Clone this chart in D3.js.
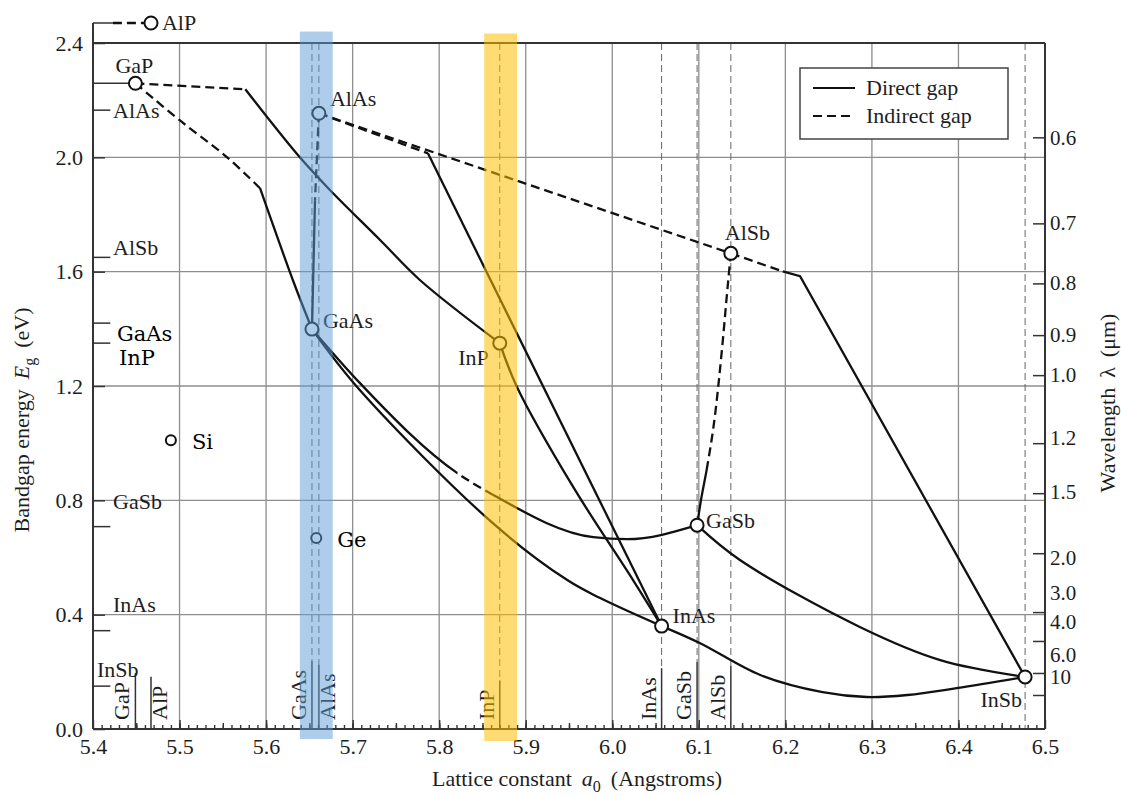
<!DOCTYPE html>
<html>
<head>
<meta charset="utf-8">
<script src="https://cdn.jsdelivr.net/npm/d3@7"></script>
<style>
  body { margin: 0; background: #fff; }
  svg { display: block; }
  text { font-family: "Liberation Serif", "Times New Roman", serif; font-size: 22px; fill: #1e1e1e; }
  .cam { font-family: "DejaVu Serif", serif; font-size: 21px; fill: #000; }
</style>
</head>
<body>
<svg id="chart" width="1121" height="796"></svg>
<script>
// ---- data ----
const materials  = ['AlP', 'GaP', 'AlAs', 'GaAs', 'InP', 'AlSb', 'GaSb', 'InAs', 'InSb'];
const latticeA   = [5.467, 5.449, 5.661, 5.653, 5.870, 6.137, 6.098, 6.057, 6.477];
const bandgapEg  = [2.47, 2.259, 2.154, 1.399, 1.350, 1.664, 0.713, 0.360, 0.182];
// small marks on the left axis (Eg) and where they run to (a)
const axisMarkEg = [2.47, 2.259, 2.165, 1.42, 1.35, 1.65, 0.708, 0.344, 0.15];
const axisMarkTo = [5.423, 5.449, 5.42, 5.42, 5.42, 5.42, 5.42, 5.42, 5.42];

const elements   = ['Si', 'Ge'];
const elementA   = [5.490, 5.658];
const elementEg  = [1.01, 0.668];

// dashed guides down from the top, solid marks + labels on the bottom axis
const guideMats  = ['GaAs', 'AlAs', 'InP', 'InAs', 'GaSb', 'AlSb', 'InSb'];
const bottomMats = ['GaP', 'AlP', 'GaAs', 'AlAs', 'InP', 'InAs', 'GaSb', 'AlSb'];
const bottomSide = ['L', 'R', 'L', 'R', 'L', 'L', 'L', 'L'];

// ternary lines: [from, to, gap, shape, [[a, Eg], ...]]
const segments = [
  ['AlP', 'AlP', 'indirect', 'linear', [[5.423, 2.47], [5.461, 2.47]]],
  ['GaP', 'InP', 'indirect', 'linear', [[5.449, 2.259], [5.576, 2.238]]],
  ['GaP', 'InP', 'direct', 'smooth', [[5.576, 2.238], [5.639, 2.0], [5.674, 1.885], [5.732, 1.71], [5.778, 1.57], [5.870, 1.35]]],
  ['GaP', 'GaAs', 'indirect', 'smooth', [[5.449, 2.259], [5.5005, 2.129], [5.555, 2.0], [5.593, 1.892]]],
  ['GaP', 'GaAs', 'direct', 'smooth', [[5.593, 1.892], [5.631, 1.57], [5.653, 1.399]]],
  ['AlAs', 'GaAs', 'indirect', 'linear', [[5.661, 2.154], [5.6565, 1.85]]],
  ['AlAs', 'GaAs', 'direct', 'linear', [[5.6565, 1.85], [5.653, 1.399]]],
  ['AlAs', 'AlSb', 'indirect', 'linear', [[5.661, 2.154], [6.137, 1.664]]],
  ['AlAs', 'InAs', 'indirect', 'linear', [[5.661, 2.154], [5.787, 2.014]]],
  ['AlAs', 'InAs', 'direct', 'linear', [[5.787, 2.014], [6.057, 0.36]]],
  ['InP', 'InAs', 'direct', 'smooth', [[5.870, 1.35], [5.890, 1.196], [5.955, 0.846], [6.024, 0.521], [6.057, 0.36]]],
  ['GaAs', 'InAs', 'direct', 'smooth', [[5.653, 1.399], [5.7085, 1.185], [5.862, 0.72], [5.948, 0.521], [5.986, 0.458], [6.057, 0.36]]],
  ['InAs', 'InSb', 'direct', 'smooth', [[6.057, 0.36], [6.101, 0.301], [6.171, 0.189], [6.243, 0.129], [6.294, 0.112], [6.341, 0.119], [6.398, 0.143], [6.477, 0.182]]],
  ['GaSb', 'InSb', 'direct', 'smooth', [[6.098, 0.713], [6.1475, 0.591], [6.286, 0.357], [6.379, 0.241], [6.477, 0.182]]],
  ['AlSb', 'InSb', 'indirect', 'linear', [[6.137, 1.664], [6.197, 1.601]]],
  ['AlSb', 'InSb', 'direct', 'linear', [[6.197, 1.601], [6.217, 1.584], [6.477, 0.182]]],
];
// smooth lines that turn indirect over a stretch: [from, to, points, axis, lo, hi]
const mixedCurves = [
  ['GaAs', 'GaSb', [[5.653, 1.399], [5.7085, 1.21], [5.821, 0.895], [5.863, 0.818], [5.978, 0.671], [6.017, 0.664], [6.098, 0.713]], 'a', 5.821, 5.862],
  ['GaSb', 'AlSb', [[6.098, 0.713], [6.1025, 0.801], [6.109, 0.906], [6.119, 1.105], [6.127, 1.336], [6.134, 1.57], [6.137, 1.664]], 'eg', 0.906, 2.4],
];

// axes
const xTicks = [5.4, 5.5, 5.6, 5.7, 5.8, 5.9, 6.0, 6.1, 6.2, 6.3, 6.4, 6.5];
const yTicks = [0, 0.4, 0.8, 1.2, 1.6, 2.0, 2.4];
const lambdaLabels = ['0.6', '0.7', '0.8', '0.9', '1.0', '1.2', '1.5', '2.0', '3.0', '4.0', '6.0', '10'];
const lambdaTickEg  = [2.07, 1.769, 1.559, 1.378, 1.238, 1.0, 0.825, 0.615, 0.409, 0.308, 0.196, 0.119];
const lambdaLabelEg = [2.07, 1.77, 1.56, 1.378, 1.238, 1.02, 0.83, 0.60, 0.476, 0.374, 0.259, 0.181];

// highlight bands [a0, a1, Eg0, Eg1]
const bandNames = ['blue', 'yellow'];
const bandRange = [[5.639, 5.677, -0.035, 2.44], [5.852, 5.890, -0.042, 2.433]];
const bandColor = ['#5b9bd5', '#ffc000'];

// ---- drawing ----
const W = 1121, H = 796;
const M = { l: 93, r: 1045, t: 43, b: 729 };
const svg = d3.select('#chart');
const x = d3.scaleLinear().domain([5.4, 6.5]).range([M.l, M.r]);
const y = d3.scaleLinear().domain([0, 2.4]).range([M.b, M.t]);
const mat = name => { const i = materials.indexOf(name); return { a: latticeA[i], eg: bandgapEg[i] }; };
const tickFont = sel => sel.style('font-size', '22px').style('font-family', '"Liberation Serif", serif').attr('fill', '#1e1e1e');

svg.append('rect').attr('width', W).attr('height', H).attr('fill', '#fff');
const defs = svg.append('defs');

// grid
const grid = svg.append('g').attr('stroke', '#8e8e8e').attr('stroke-width', 1.3);
grid.selectAll('line.v').data(xTicks.slice(1, -1)).join('line').attr('class', 'v')
  .attr('x1', d => x(d)).attr('x2', d => x(d)).attr('y1', M.t).attr('y2', M.b);
grid.selectAll('line.h').data(yTicks.slice(1, -1)).join('line').attr('class', 'h')
  .attr('x1', M.l).attr('x2', M.r).attr('y1', d => y(d)).attr('y2', d => y(d));

// legend (white box sits over the grid)
const lg = svg.append('g').attr('transform', `translate(${M.r - 245},68)`);
lg.append('rect').attr('width', 208).attr('height', 71).attr('fill', '#fff')
  .attr('stroke', '#444').attr('stroke-width', 1.5);
[['Direct gap', null, 20], ['Indirect gap', '9,5', 48]].forEach(([t, dash, yy]) => {
  lg.append('line').attr('x1', 13).attr('x2', 55).attr('y1', yy).attr('y2', yy)
    .attr('stroke', '#111').attr('stroke-width', 2.2).attr('stroke-dasharray', dash);
  lg.append('text').attr('x', 66).attr('y', yy + 7).text(t);
});

// dashed guides + bottom marks
const guides = svg.append('g');
const bottomTop = {};
bottomMats.forEach((m, i) => {
  const lx = x(mat(m).a);
  const bx = bottomSide[i] === 'L' ? lx - 6 : lx + 16;
  const t = guides.append('text').attr('transform', `translate(${bx},720) rotate(-90)`).text(m);
  const len = t.node().getComputedTextLength();
  bottomTop[m] = 720 - len - 9;
  guides.append('line').attr('x1', lx).attr('x2', lx).attr('y1', bottomTop[m]).attr('y2', M.b)
    .attr('stroke', '#333').attr('stroke-width', 1.5);
});
guides.selectAll('line.guide').data(guideMats).join('line').attr('class', 'guide')
  .attr('x1', d => x(mat(d).a)).attr('x2', d => x(mat(d).a))
  .attr('y1', M.t).attr('y2', d => bottomTop[d] !== undefined ? bottomTop[d] : M.b)
  .attr('stroke', '#666').attr('stroke-width', 1).attr('stroke-dasharray', '7,4');

// axes
const xAxis = svg.append('g').attr('transform', `translate(0,${M.b})`);
xAxis.call(d3.axisBottom(x).tickValues(d3.range(541, 650).map(v => v / 100)).tickSize(-4).tickFormat(''));
xAxis.call(g => g.append('g').call(d3.axisBottom(x).tickValues(d3.range(109, 130).map(v => v / 20)).tickSize(-6).tickFormat('')));
xAxis.call(g => g.append('g').call(d3.axisBottom(x).tickValues(xTicks).tickSize(-9).tickPadding(9).tickFormat(d3.format('.1f'))));
xAxis.selectAll('.domain').remove();
xAxis.selectAll('line').attr('stroke', '#333').attr('stroke-width', 1.4);
xAxis.selectAll('text').call(tickFont);

const yAxis = svg.append('g').attr('transform', `translate(${M.l},0)`)
  .call(d3.axisLeft(y).tickValues(yTicks).tickSize(-12).tickPadding(10).tickFormat(d3.format('.1f')));
yAxis.select('.domain').remove();
yAxis.selectAll('line').attr('stroke', '#333').attr('stroke-width', 1.5);
yAxis.selectAll('text').call(tickFont);

const rAxis = svg.append('g').attr('transform', `translate(${M.r},0)`);
rAxis.call(d3.axisRight(y).tickValues(lambdaTickEg).tickSize(-12).tickFormat(''));
rAxis.call(g => g.append('g').call(d3.axisRight(y).tickValues(lambdaLabelEg).tickSize(0).tickPadding(5)
  .tickFormat((d, i) => lambdaLabels[i])));
rAxis.selectAll('.domain').remove();
rAxis.selectAll('line').attr('stroke', '#333').attr('stroke-width', 1.5);
rAxis.selectAll('text').call(tickFont).style('font-size', '21px');

// frame
const frame = svg.append('g').attr('stroke', '#333').attr('stroke-width', 2).attr('fill', 'none');
frame.append('line').attr('x1', M.l).attr('x2', M.r).attr('y1', y(2.4)).attr('y2', y(2.4));
frame.append('line').attr('x1', M.l).attr('x2', M.r).attr('y1', M.b).attr('y2', M.b);
frame.append('line').attr('x1', M.l).attr('x2', M.l).attr('y1', M.b).attr('y2', y(d3.max(axisMarkEg)));
frame.append('line').attr('x1', M.r).attr('x2', M.r).attr('y1', M.t).attr('y2', M.b);

// left axis material marks
svg.append('g').selectAll('line').data(materials).join('line')
  .attr('x1', M.l).attr('x2', (d, i) => x(axisMarkTo[i]))
  .attr('y1', (d, i) => y(axisMarkEg[i])).attr('y2', (d, i) => y(axisMarkEg[i]))
  .attr('stroke', '#333').attr('stroke-width', 1.5);

// curves
const lineSmooth = d3.line().x(d => x(d[0])).y(d => y(d[1])).curve(d3.curveCatmullRom.alpha(0.5));
const lineMixed = d3.line().x(d => x(d[0])).y(d => y(d[1])).curve(d3.curveMonotoneX);
const lineStraight = d3.line().x(d => x(d[0])).y(d => y(d[1]));
const curves = svg.append('g').attr('fill', 'none').attr('stroke', '#111').attr('stroke-width', 2.3);
curves.selectAll('path.seg').data(segments).join('path').attr('class', 'seg')
  .attr('d', s => (s[3] === 'smooth' ? lineSmooth : lineStraight)(s[4]))
  .attr('stroke-dasharray', s => s[2] === 'indirect' ? '9,5' : null);

// one smooth path each, clipped into its direct and indirect stretches
mixedCurves.forEach((c, k) => {
  const [, , pts, axis, lo, hi] = c;
  const inside = axis === 'a'
    ? [[x(lo), 0, x(hi) - x(lo), H]]
    : [[0, y(hi), W, y(lo) - y(hi)]];
  const outside = axis === 'a'
    ? [[0, 0, x(lo), H], [x(hi), 0, W - x(hi), H]]
    : [[0, 0, W, y(hi)], [0, y(lo), W, H - y(lo)]];
  [['in', inside], ['out', outside]].forEach(([nm, rects]) => {
    const cp = defs.append('clipPath').attr('id', `mix-${k}-${nm}`);
    rects.forEach(r => cp.append('rect').attr('x', r[0]).attr('y', r[1]).attr('width', r[2]).attr('height', r[3]));
  });
  curves.append('path').attr('d', lineMixed(pts)).attr('clip-path', `url(#mix-${k}-out)`);
  curves.append('path').attr('d', lineMixed(pts)).attr('clip-path', `url(#mix-${k}-in)`)
    .attr('stroke-dasharray', '9,5');
});

// points
svg.append('g').selectAll('circle').data(materials).join('circle')
  .attr('cx', (d, i) => x(latticeA[i])).attr('cy', (d, i) => y(bandgapEg[i])).attr('r', 6.5)
  .attr('fill', '#fff').attr('stroke', '#111').attr('stroke-width', 2);
svg.append('g').selectAll('circle').data(elements).join('circle')
  .attr('cx', (d, i) => x(elementA[i])).attr('cy', (d, i) => y(elementEg[i])).attr('r', 5)
  .attr('fill', '#fff').attr('stroke', '#111').attr('stroke-width', 2);

// labels next to points: [name, dx, dy, anchor]
const pointLabelPos = [['AlP', 11, 7, 'start'], ['GaP', -20, -10, 'start'], ['AlAs', 11, -7, 'start'],
  ['GaAs', 11, -1, 'start'], ['InP', -11, 22, 'end'], ['AlSb', -6, -13, 'start'],
  ['GaSb', 9, 3, 'start'], ['InAs', 11, -3, 'start'], ['InSb', -3, 30, 'end']];
svg.append('g').selectAll('text').data(pointLabelPos).join('text')
  .attr('x', d => x(mat(d[0]).a) + d[1]).attr('y', d => y(mat(d[0]).eg) + d[2])
  .attr('text-anchor', d => d[3]).text(d => d[0]);
svg.append('g').selectAll('text').data(elements).join('text').attr('class', 'cam')
  .attr('x', (d, i) => x(elementA[i]) + 21).attr('y', (d, i) => y(elementEg[i]) + 9).text(d => d);

// labels at the left axis marks: [name, dx, dy, serif class]
const axisLabelPos = [['AlAs', 20, 8, ''], ['AlSb', 20, -2, ''], ['GaAs', 24, 18, 'cam'], ['InP', 26, 22, 'cam'],
  ['GaSb', 20, -18, ''], ['InAs', 20, -19, ''], ['InSb', 4, -9, '']];
svg.append('g').selectAll('text').data(axisLabelPos).join('text')
  .attr('class', d => d[3])
  .attr('x', d => M.l + d[1]).attr('y', d => y(axisMarkEg[materials.indexOf(d[0])]) + d[2]).text(d => d[0]);

// axis titles
const yt = svg.append('text').attr('transform', 'translate(29,420) rotate(-90)').attr('text-anchor', 'middle');
yt.append('tspan').text('Bandgap energy');
yt.append('tspan').attr('dx', 10).style('font-style', 'italic').text('E');
yt.append('tspan').attr('dy', 6).style('font-size', '16px').text('g');
yt.append('tspan').attr('dx', 10).attr('dy', -6).text('(eV)');

const rt = svg.append('text').attr('transform', 'translate(1115,403) rotate(-90)').attr('text-anchor', 'middle');
rt.append('tspan').text('Wavelength');
rt.append('tspan').attr('dx', 10).text('λ');
rt.append('tspan').attr('dx', 10).text('(μm)');

const xt = svg.append('text').attr('x', 577).attr('y', 786).attr('text-anchor', 'middle');
xt.append('tspan').text('Lattice constant');
xt.append('tspan').attr('dx', 10).style('font-style', 'italic').text('a');
xt.append('tspan').attr('dy', 6).style('font-size', '16px').text('0');
xt.append('tspan').attr('dx', 10).attr('dy', -6).text('(Angstroms)');

// translucent highlight bands on top
svg.append('g').selectAll('rect').data(bandNames).join('rect')
  .attr('x', (d, i) => x(bandRange[i][0])).attr('width', (d, i) => x(bandRange[i][1]) - x(bandRange[i][0]))
  .attr('y', (d, i) => y(bandRange[i][3])).attr('height', (d, i) => y(bandRange[i][2]) - y(bandRange[i][3]))
  .attr('fill', (d, i) => bandColor[i]).attr('opacity', (d, i) => i === 0 ? 0.5 : 0.55);
</script>
</body>
</html>
